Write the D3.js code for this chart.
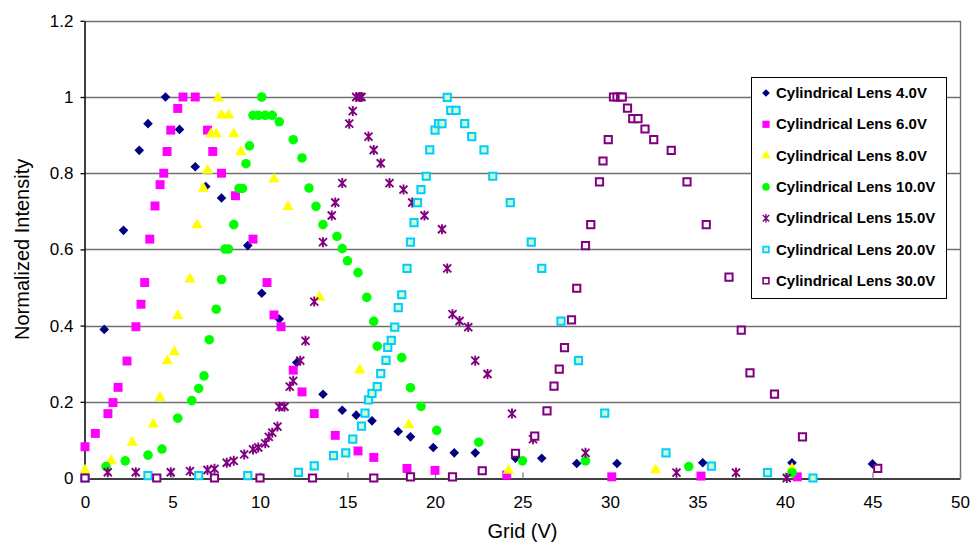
<!DOCTYPE html>
<html>
<head>
<meta charset="utf-8">
<script src="https://cdn.jsdelivr.net/npm/d3@7"></script>
<style>
  body { margin: 0; background: #fff; }
  svg { font-family: 'Liberation Sans', Arial, sans-serif; }
</style>
</head>
<body>
<div class="container"></div>
<script>
// data: [grid (V), normalized intensity]
const lens4 = [[1.1,0.39],[2.2,0.65],[3.1,0.86],[3.6,0.93],[4.6,1.0],[5.4,0.915],[6.3,0.817],[6.9,0.765],[7.8,0.735],[9.3,0.61],[10.1,0.485],[11.1,0.417],[12.1,0.303],[13.6,0.22],[14.7,0.178],[15.5,0.165],[16.4,0.15],[17.9,0.122],[18.6,0.108],[19.9,0.08],[21.1,0.066],[22.3,0.066],[24.6,0.052],[26.1,0.052],[28.1,0.038],[30.4,0.038],[35.3,0.04],[40.4,0.04],[45.0,0.037]];
const lens6 = [[0,0.082],[0.59,0.117],[1.31,0.169],[1.6,0.198],[1.89,0.238],[2.4,0.307],[2.91,0.397],[3.2,0.456],[3.41,0.513],[3.7,0.627],[4.0,0.714],[4.29,0.77],[4.5,0.8],[4.69,0.857],[4.9,0.913],[5.3,0.97],[5.6,1.0],[6.3,1.0],[7.0,0.913],[7.3,0.857],[7.8,0.8],[8.6,0.741],[9.6,0.627],[10.4,0.513],[10.8,0.428],[11.2,0.397],[11.9,0.283],[12.4,0.226],[13.1,0.169],[14.3,0.112],[15.6,0.071],[16.5,0.054],[18.4,0.025],[20.0,0.02],[24.1,0.008],[30.1,0.003],[35.2,0.005],[40.7,0.003]];
const lens8 = [[0,0.02],[1.5,0.045],[2.7,0.093],[3.9,0.141],[4.29,0.211],[4.7,0.307],[5.1,0.331],[5.3,0.426],[6.0,0.522],[6.4,0.664],[6.76,0.76],[7.0,0.807],[7.2,0.903],[7.5,0.903],[7.6,0.997],[7.8,0.952],[8.2,0.952],[8.5,0.903],[8.9,0.856],[10.8,0.784],[11.6,0.712],[13.4,0.474],[15.7,0.283],[18.5,0.139],[24.2,0.02],[32.6,0.021],[40.4,0.025]];
const lens10 = [[1.2,0.03],[2.3,0.045],[3.6,0.06],[4.4,0.076],[5.3,0.157],[6.1,0.203],[6.5,0.235],[6.8,0.268],[7.1,0.363],[7.5,0.443],[7.8,0.521],[8.0,0.601],[8.2,0.601],[8.5,0.665],[8.8,0.76],[9.0,0.76],[9.2,0.825],[9.4,0.872],[9.6,0.952],[9.9,0.952],[10.1,1.0],[10.3,0.952],[10.7,0.952],[11.1,0.935],[11.9,0.888],[12.4,0.84],[12.8,0.761],[13.2,0.713],[13.6,0.665],[14.4,0.634],[14.7,0.602],[15.0,0.57],[15.6,0.539],[16.1,0.474],[16.5,0.411],[16.7,0.346],[18.1,0.316],[18.6,0.237],[19.2,0.188],[20.1,0.125],[22.5,0.094],[25.0,0.045],[28.6,0.045],[34.5,0.03],[40.4,0.014]];
const lens15 = [[1.3,0.015],[2.9,0.015],[4.9,0.015],[6.0,0.018],[7.0,0.021],[7.4,0.024],[8.1,0.04],[8.5,0.045],[9.1,0.062],[9.6,0.075],[9.9,0.08],[10.3,0.091],[10.5,0.108],[10.7,0.119],[11.0,0.135],[11.1,0.187],[11.4,0.187],[11.7,0.24],[11.9,0.255],[12.3,0.308],[12.6,0.36],[13.1,0.463],[13.6,0.619],[14.1,0.689],[14.3,0.723],[14.7,0.774],[15.1,0.93],[15.3,0.963],[15.5,1.0],[15.7,1.0],[15.8,1.0],[16.2,0.896],[16.5,0.861],[16.9,0.826],[17.4,0.774],[18.2,0.757],[18.7,0.723],[19.4,0.689],[20.4,0.653],[20.7,0.55],[21.0,0.43],[21.4,0.412],[21.9,0.396],[22.3,0.308],[23.0,0.273],[24.4,0.169],[25.6,0.102],[28.6,0.066],[33.8,0.014],[37.2,0.014],[40.1,0.0]];
const lens20 = [[0,0.0],[3.6,0.006],[6.5,0.006],[9.3,0.006],[12.2,0.015],[13.1,0.032],[14.2,0.059],[14.9,0.066],[15.3,0.102],[15.8,0.136],[16.0,0.17],[16.2,0.205],[16.4,0.222],[16.7,0.24],[16.9,0.274],[17.2,0.309],[17.3,0.343],[17.5,0.361],[17.7,0.396],[17.9,0.447],[18.1,0.481],[18.4,0.55],[18.6,0.619],[18.8,0.67],[19.0,0.723],[19.2,0.757],[19.5,0.792],[19.7,0.861],[20.0,0.913],[20.2,0.93],[20.4,0.93],[20.7,0.999],[20.9,0.965],[21.2,0.965],[21.7,0.93],[22.1,0.896],[22.8,0.861],[23.3,0.792],[24.3,0.723],[25.5,0.619],[26.1,0.55],[27.2,0.412],[28.2,0.308],[29.7,0.17],[33.2,0.066],[35.8,0.031],[39.0,0.014],[41.6,0.0]];
const lens30 = [[0,0.0],[4.1,0.0],[7.4,0.0],[10.0,0.0],[13.0,0.0],[16.5,0.0],[18.6,0.003],[21.0,0.003],[22.7,0.019],[24.6,0.065],[25.7,0.11],[26.4,0.176],[26.8,0.241],[27.1,0.286],[27.4,0.342],[27.8,0.415],[28.1,0.498],[28.6,0.61],[28.9,0.665],[29.4,0.777],[29.6,0.832],[29.9,0.888],[30.2,1.0],[30.4,1.0],[30.6,1.0],[30.7,1.0],[31.0,0.971],[31.3,0.943],[31.6,0.943],[32.0,0.916],[32.5,0.888],[33.5,0.86],[34.4,0.777],[35.5,0.665],[36.8,0.527],[37.5,0.388],[38.0,0.276],[39.4,0.22],[41.0,0.108],[45.3,0.025]];

const seriesNames = ['Cylindrical Lens 4.0V','Cylindrical Lens 6.0V','Cylindrical Lens 8.0V','Cylindrical Lens 10.0V','Cylindrical Lens 15.0V','Cylindrical Lens 20.0V','Cylindrical Lens 30.0V'];
const seriesData = [lens4, lens6, lens8, lens10, lens15, lens20, lens30];
const xTicks = [0,5,10,15,20,25,30,35,40,45,50];
const yTicks = [0,0.2,0.4,0.6,0.8,1,1.2];

const width = 973;
const height = 547;

// marker look for each series, same order as the names
const markers = [
  { type: 'diamond', size: 4.8, fill: '#000080', stroke: 'none' },
  { type: d3.symbolSquare, size: 80, fill: '#ff00ff', stroke: 'none' },
  { type: d3.symbolTriangle, size: 56, fill: '#ffff00', stroke: 'none' },
  { type: d3.symbolCircle, size: 72, fill: '#00ff00', stroke: 'none' },
  { type: 'star', size: 4, fill: 'none', stroke: '#800080' },
  { type: d3.symbolSquare, size: 52, fill: '#ccffcc', stroke: '#00ccff' },
  { type: d3.symbolSquare, size: 52, fill: '#ffffff', stroke: '#800080' },
];

const starPath = (r) =>
  `M${-r},${-r}L${r},${r}M${-r},${r}L${r},${-r}M0,${-r - 1}L0,${r + 1}`;
const diamondPath = (r) => `M0,${-r}L${r},0L0,${r}L${-r},0Z`;

const markerPath = (m, scale = 1) => {
  if (m.type === 'star') return starPath(m.size * scale);
  if (m.type === 'diamond') return diamondPath(m.size * scale);
  return d3.symbol(m.type, m.size * scale * scale)();
};

const svg = d3
  .select('.container')
  .append('svg')
  .attr('width', width)
  .attr('height', height);

const xScale = d3.scaleLinear().domain([0, 50]).range([85, 960]);
const yScale = d3.scaleLinear().domain([0, 1.2]).range([478, 20.8]);

// gridlines, the top one doubles as the plot area border
svg
  .append('g')
  .selectAll('line')
  .data(yTicks.filter((t) => t > 0))
  .enter()
  .append('line')
  .attr('x1', xScale(0))
  .attr('x2', xScale(50))
  .attr('y1', (d) => Math.round(yScale(d)) + 0.5)
  .attr('y2', (d) => Math.round(yScale(d)) + 0.5)
  .attr('stroke', '#707070')
  .attr('stroke-width', 1.4);

// right border of the plot area
svg
  .append('line')
  .attr('x1', xScale(50) + 0.5)
  .attr('x2', xScale(50) + 0.5)
  .attr('y1', yScale(1.2))
  .attr('y2', yScale(0))
  .attr('stroke', '#707070')
  .attr('stroke-width', 1.4);

const xAxis = d3
  .axisBottom(xScale)
  .tickValues(xTicks)
  .tickSizeInner(-6)
  .tickSizeOuter(0)
  .tickPadding(17)
  .tickFormat(d3.format('d'));
const yAxis = d3
  .axisLeft(yScale)
  .tickValues(yTicks)
  .tickSizeInner(4)
  .tickSizeOuter(0)
  .tickPadding(7)
  .tickFormat((d) => (d === 0 || d === 1 ? d3.format('d')(d) : d3.format('.1f')(d)));

const gx = svg
  .append('g')
  .attr('id', 'x-axis')
  .attr('transform', `translate(0,${Math.round(yScale(0)) + 0.5})`)
  .call(xAxis);
const gy = svg
  .append('g')
  .attr('id', 'y-axis')
  .attr('transform', `translate(${Math.round(xScale(0)) - 0.5},0)`)
  .call(yAxis);

[gx, gy].forEach((g) => {
  g.select('.domain').attr('stroke', '#000').attr('stroke-width', 1.5);
  g.selectAll('.tick line').attr('stroke', '#000').attr('stroke-width', 1.3);
  g.selectAll('.tick text').attr('fill', '#000').style('font-size', '17px');
});
gx.selectAll('.tick line').attr('stroke', '#808080');

// axis titles
svg
  .append('text')
  .attr('x', xScale(25))
  .attr('y', 538)
  .attr('text-anchor', 'middle')
  .style('font-size', '20px')
  .text('Grid (V)');
svg
  .append('text')
  .attr('transform', 'rotate(-90)')
  .attr('x', -yScale(0.6))
  .attr('y', 29)
  .attr('text-anchor', 'middle')
  .style('font-size', '20px')
  .text('Normalized Intensity');

// points, later series drawn on top
seriesData.forEach((data, i) => {
  const m = markers[i];
  svg
    .append('g')
    .attr('class', 'series')
    .selectAll('path')
    .data(data)
    .enter()
    .append('path')
    .attr('transform', (d) => `translate(${xScale(d[0])},${yScale(d[1])})`)
    .attr('d', markerPath(m))
    .attr('fill', m.fill)
    .attr('stroke', m.stroke)
    .attr('stroke-width', m.type === 'star' ? 1.9 : 2);
});

// legend
const legend = svg.append('g').attr('id', 'legend');
legend
  .append('rect')
  .attr('x', 751.5)
  .attr('y', 77.5)
  .attr('width', 195)
  .attr('height', 221)
  .attr('fill', '#fff')
  .attr('stroke', '#000')
  .attr('stroke-width', 1);

seriesNames.forEach((name, i) => {
  const m = markers[i];
  const y = 93 + i * 31.3;
  legend
    .append('path')
    .attr('transform', `translate(766,${y})`)
    .attr('d', markerPath(m, 0.8))
    .attr('fill', m.fill)
    .attr('stroke', m.stroke)
    .attr('stroke-width', m.type === 'star' ? 1.4 : 1.6);
  legend
    .append('text')
    .attr('x', 776)
    .attr('y', y + 5)
    .style('font-size', '15px')
    .style('font-weight', 'bold')
    .text(name);
});
</script>
</body>
</html>
